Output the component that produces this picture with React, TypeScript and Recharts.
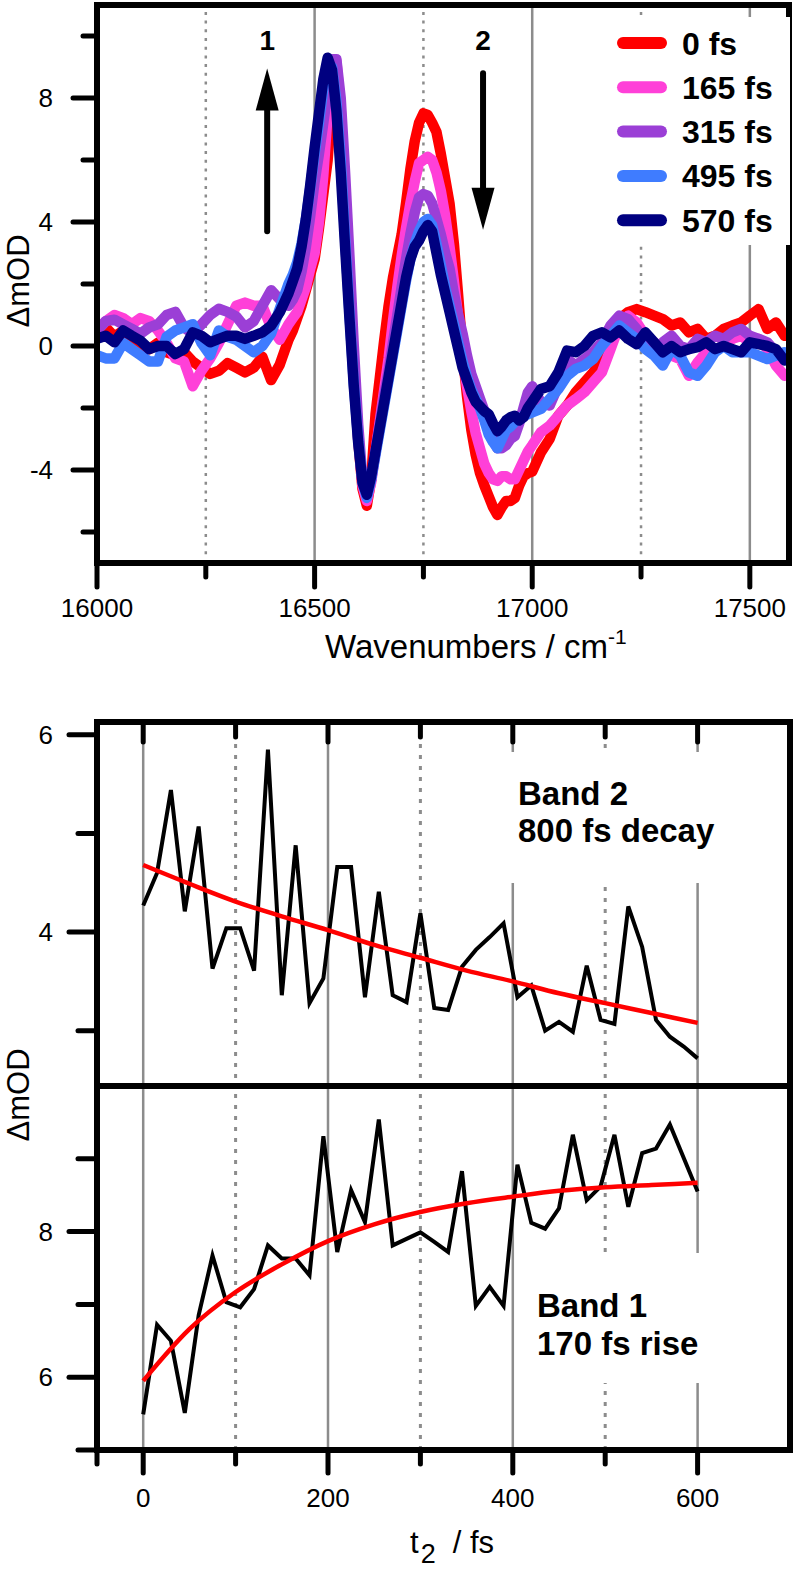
import React from 'react';
import { LineChart, Line, XAxis, YAxis, ReferenceLine, Legend, Label } from 'recharts';

const FONT = '"Liberation Sans", Arial, Helvetica, sans-serif';

// ---------- Top panel: transient spectra ----------
const wavenumbers = [
  16000, 16020, 16040, 16060, 16080, 16100, 16120, 16140, 16160, 16180, 16200, 16220, 16240, 16260, 16280, 16300, 16320, 16340, 16360, 16380, 16400, 16420, 16440,
  16450, 16460, 16470, 16480, 16490, 16500, 16510, 16520, 16530, 16540,
  16550, 16560, 16570, 16580, 16590, 16600, 16610, 16620, 16630, 16640,
  16650, 16660, 16670, 16680, 16690, 16700, 16710, 16720, 16730, 16740,
  16750, 16760, 16770, 16780, 16790, 16800, 16810, 16820, 16830, 16840,
  16850, 16860, 16870, 16880, 16890, 16900, 16910, 16920, 16930, 16940,
  16950, 16960, 16970, 16980, 16990, 17000,
  17020, 17040, 17060, 17080, 17100, 17120, 17140, 17160, 17180, 17200, 17220, 17240, 17260, 17280, 17300, 17320, 17340, 17360, 17380, 17400, 17420, 17440, 17460, 17480, 17500, 17520, 17540, 17560, 17580,
];

const delay0fs = [
  0.4, 0.6, 0.3, 0.5, 0.2, 0.0, -0.1, 0.1, -0.2, -0.3, -0.2, -0.5, -0.7, -0.9, -0.8, -0.55, -0.7, -0.85, -0.7, -0.35, -1.1, -0.6, 0.2,
  0.5, 0.9, 1.3, 1.8, 2.3, 2.8, 3.8, 4.9, 6.0, 8.0,
  8.9, 7.4, 4.8, 2.0, -0.8, -3.0, -4.6, -5.15, -4.3, -2.2,
  -1.0, 0.2, 1.3, 2.2, 2.9, 3.6, 4.6, 5.7, 6.6, 7.2,
  7.5, 7.45, 7.2, 6.9, 6.2, 5.4, 4.6, 3.3, 1.6, -0.2,
  -1.6, -2.7, -3.5, -4.1, -4.5, -4.85, -5.2, -5.45, -5.2, -5.0,
  -5.0, -4.9, -4.5, -4.2, -4.1, -4.05,
  -3.43, -3.0, -2.25, -1.92, -1.49, -1.17, -0.85, -0.47, 0.23, 0.87, 1.09, 1.19, 1.09, 0.98, 0.87, 0.66, 0.76, 0.44, 0.55, 0.23, 0.33, 0.55, 0.66, 0.76, 0.98, 1.19, 0.55, 0.76, 0.33,
];

const delay165fs = [
  0.5, 0.8, 1.0, 0.9, 0.7, 0.9, 0.8, 0.5, 0.1, -0.4, -0.5, -1.3, -0.8, -0.4, 0.1, 0.7, 1.3, 1.4, 1.3, 1.3, 0.6, 0.2, 0.7,
  0.9, 1.1, 1.5, 1.9, 2.5, 3.0, 4.0, 5.5, 7.5, 9.2,
  9.2, 7.6, 5.0, 2.3, -0.5, -2.9, -4.5, -5.0, -4.4, -3.4,
  -2.4, -1.4, -0.4, 0.8, 1.9, 2.9, 3.8, 4.6, 5.3, 5.9,
  6.0, 6.1, 6.0, 5.6, 5.0, 4.2, 3.2, 2.1, 0.9, -0.4,
  -1.3, -2.1, -2.8, -3.3, -3.8, -4.1, -4.3, -4.35, -4.2, -4.2,
  -4.3, -4.3, -4.0, -3.7, -3.4, -3.2,
  -2.78, -2.57, -2.25, -1.92, -1.71, -1.49, -1.17, -0.85, -0.1, 0.66, 0.98, 0.76, 0.33, 0.12, -0.2, -0.31, -0.42, -0.96, -0.53, -0.2, -0.1, 0.0, 0.23, 0.33, 0.12, 0.23, -0.1, -0.63, -0.96,
];

const delay315fs = [
  0.5, 0.8, 0.85, 0.7, 0.55, 0.4, 0.6, 0.7, 1.0, 1.1, 0.6, 0.4, 0.7, 1.0, 1.2, 1.1, 0.95, 0.6, 0.8, 1.3, 1.8, 1.5, 1.3,
  1.5, 1.8, 2.4, 3.2, 4.2, 5.3, 6.2, 7.2, 8.2, 9.25,
  9.25, 8.0, 5.6, 2.9, 0.0, -2.5, -4.3, -4.8, -4.3, -3.4,
  -2.5, -1.6, -0.8, 0.1, 1.0, 1.9, 2.8, 3.6, 4.3, 4.8,
  4.9, 4.85, 4.6, 4.1, 3.6, 3.0, 2.5, 1.7, 1.0, 0.4,
  -0.3, -0.9, -1.3, -1.7, -2.1, -2.6, -3.0, -3.3, -3.3, -3.2,
  -3.0, -2.9, -2.5, -2.0, -1.5, -1.3,
  -1.82, -1.92, -1.28, -0.42, -0.63, -0.42, -0.2, 0.12, 0.66, 0.98, 0.87, 0.55, 0.12, -0.1, 0.12, 0.33, 0.0, -0.1, 0.23, 0.12, 0.33, 0.23, 0.44, 0.55, 0.33, 0.23, 0.12, -0.2, -0.42,
];

const delay495fs = [
  -0.3, -0.4, -0.4, 0.1, -0.1, -0.3, -0.5, -0.5, 0.3, 0.5, 0.6, 0.7, 0.1, -0.3, 0.5, 0.3, 0.2, 0.0, -0.2, 0.0, 0.4, 1.2, 2.0,
  2.3, 2.7, 3.3, 4.1, 5.1, 6.2, 7.2, 8.3, 9.1, 9.0,
  7.9, 6.0, 3.5, 1.1, -1.2, -3.0, -4.4, -4.9, -4.3, -3.5,
  -2.7, -1.9, -1.1, -0.3, 0.5, 1.3, 2.1, 2.8, 3.3, 3.7,
  4.0, 4.1, 3.9, 3.3, 2.6, 1.9, 1.3, 0.7, 0.1, -0.5,
  -1.0, -1.4, -1.7, -2.0, -2.4, -2.85, -3.1, -3.3, -3.0, -2.7,
  -2.6, -2.45, -2.35, -2.25, -2.2, -2.14,
  -2.03, -1.71, -1.39, -0.96, -0.74, -0.63, -0.42, 0.0, 0.33, 0.66, 0.44, 0.23, -0.1, -0.31, -0.63, -0.1, -0.31, -0.85, -0.96, -0.63, -0.2, 0.0, -0.2, -0.2, -0.2, -0.31, -0.42, -0.31, -0.2,
];

const delay570fs = [
  0.23, 0.33, 0.12, 0.5, 0.33, 0.17, -0.1, 0.0, 0.0, -0.26, -0.1, 0.44, 0.33, 0.12, 0.23, 0.33, 0.33, 0.23, 0.33, 0.44, 0.66, 1.09, 1.7,
  2.1, 2.5, 3.2, 4.1, 5.2, 6.4, 7.5, 8.6, 9.3, 8.9,
  7.6, 5.6, 3.2, 0.9, -1.3, -3.1, -4.4, -4.8, -4.2, -3.4,
  -2.6, -1.8, -1.0, -0.2, 0.6, 1.4, 2.2, 2.8, 3.2, 3.4,
  3.7, 3.9, 3.7, 3.0, 2.3, 1.7, 1.1, 0.5, -0.1, -0.7,
  -1.1, -1.5, -1.8, -1.95, -2.1, -2.2, -2.5, -2.75, -2.6, -2.4,
  -2.3, -2.25, -2.4, -2.3, -2.0, -1.8,
  -1.39, -1.3, -0.85, -0.15, -0.2, 0.0, 0.33, 0.44, 0.28, 0.5, 0.23, 0.06, 0.44, 0.12, -0.2, 0.0, -0.2, -0.1, -0.04, 0.12, -0.1, 0.0, -0.1, -0.2, 0.12, 0.06, 0.0, -0.1, -0.47,
];

const seriesNames = ['0 fs', '165 fs', '315 fs', '495 fs', '570 fs'];
const seriesColors = ['#ff0000', '#ff40d8', '#9b3fd6', '#3f7cff', '#000080'];
const seriesValues = [delay0fs, delay165fs, delay315fs, delay495fs, delay570fs];

const specXMajor = [16000, 16500, 17000, 17500];
const specXMinor = [16250, 16750, 17250];
const specYMajor = [-4, 0, 4, 8];
const specYMinor = [-6, -2, 2, 6, 10];
const specGridSolid = [16500, 17000, 17500];
const specGridDotted = [16250, 16750, 17250];

const arrowX = [16391, 16887];
const arrowFrom = [3.7, 8.8];
const arrowTo = [8.95, 3.75];
const arrowLabels = ['1', '2'];

// ---------- Bottom panels: kinetics ----------
const delayTimes = [0, 15, 30, 45, 60, 75, 90, 105, 120, 135, 150, 165, 180, 195, 210, 225, 240, 255, 270, 285, 300, 315, 330, 345, 360, 375, 390, 405, 420, 435, 450, 465, 480, 495, 510, 525, 540, 555, 570, 585, 600];
const band2Values = [4.27, 4.6, 5.44, 4.21, 5.07, 3.63, 4.04, 4.04, 3.61, 5.85, 3.36, 4.88, 3.28, 3.53, 4.66, 4.66, 3.34, 4.41, 3.36, 3.29, 4.19, 3.23, 3.21, 3.65, 3.82, 3.95, 4.09, 3.34, 3.46, 3.0, 3.09, 2.99, 3.66, 3.11, 3.07, 4.26, 3.85, 3.11, 2.94, 2.84, 2.72];
const band1Values = [5.49, 6.72, 6.5, 5.51, 6.85, 7.67, 7.03, 6.96, 7.21, 7.81, 7.63, 7.63, 7.4, 9.31, 7.72, 8.57, 8.13, 9.54, 7.81, 7.9, 7.99, 7.86, 7.72, 8.83, 6.98, 7.24, 6.98, 8.92, 8.12, 8.04, 8.32, 9.33, 8.43, 8.62, 9.33, 8.34, 9.08, 9.14, 9.47, 9.01, 8.55];
const fitTimes = [0, 50, 100, 150, 200, 250, 300, 350, 400, 450, 500, 550, 600];
const band2Fit = [4.68, 4.49, 4.31, 4.16, 4.02, 3.87, 3.74, 3.61, 3.5, 3.38, 3.28, 3.18, 3.08];
const band1Fit = [5.95, 6.66, 7.17, 7.55, 7.87, 8.1, 8.27, 8.39, 8.48, 8.56, 8.61, 8.64, 8.67];

const timeMajor = [0, 200, 400, 600];
const timeMinor = [100, 300, 500];
const band2YMajor = [4, 6];
const band2YMinor = [3, 5];
const band1YMajor = [6, 8];
const band1YMinor = [5, 7, 9];

// ---------- helpers ----------
const spectrumRows = wavenumbers.map((w, i) => {
  const row: Record<string, number> = { w };
  seriesValues.forEach((vals, k) => {
    row['s' + k] = vals[i];
  });
  return row;
});
const band2Rows = delayTimes.map((t, i) => ({ t, v: band2Values[i] }));
const band1Rows = delayTimes.map((t, i) => ({ t, v: band1Values[i] }));
const band2FitRows = fitTimes.map((t, i) => ({ t, v: band2Fit[i] }));
const band1FitRows = fitTimes.map((t, i) => ({ t, v: band1Fit[i] }));

const AXIS = { stroke: '#000', strokeWidth: 6, strokeLinecap: 'square' as const };
const byNum = (a: number, b: number) => a - b;

type TickOpts = { majors: number[]; majorLen: number; minorLen: number; dir: number; labelOffset?: number; fontSize?: number };

const makeXTick = (o: TickOpts) => (props: any) => {
  const { x, y, payload } = props;
  const v = payload ? payload.value : 0;
  const isMajor = o.majors.indexOf(v) >= 0;
  const len = isMajor ? o.majorLen : o.minorLen;
  return (
    <g>
      <line x1={x} y1={y} x2={x} y2={y + o.dir * len} stroke="#000" strokeWidth={5} strokeLinecap="round" />
      {isMajor && o.labelOffset != null ? (
        <text x={x} y={y + o.labelOffset} textAnchor="middle" fontSize={o.fontSize} fontFamily={FONT} fill="#000">
          {v}
        </text>
      ) : null}
    </g>
  );
};

const makeYTick = (o: TickOpts) => (props: any) => {
  const { x, y, payload } = props;
  const v = payload ? payload.value : 0;
  const isMajor = o.majors.indexOf(v) >= 0;
  const len = isMajor ? o.majorLen : o.minorLen;
  const fs = o.fontSize || 26;
  return (
    <g>
      <line x1={x} y1={y} x2={x - len} y2={y} stroke="#000" strokeWidth={5} strokeLinecap="round" />
      {isMajor && o.labelOffset != null ? (
        <text x={x - o.labelOffset} y={y + fs * 0.355} textAnchor="end" fontSize={fs} fontFamily={FONT} fill="#000">
          {v}
        </text>
      ) : null}
    </g>
  );
};

const makeArrow = (label: string) => (p: any) => {
  const { x1, y1, x2, y2 } = p;
  const dir = y2 < y1 ? -1 : 1;
  const headLen = 42;
  const headHalf = 11.5;
  const baseY = y2 - dir * headLen;
  const labelY = dir < 0 ? y2 - 19 : y1 - 23;
  return (
    <g>
      <line x1={x1} y1={y1} x2={x1} y2={baseY} stroke="#000" strokeWidth={6} strokeLinecap="round" />
      <polygon points={`${x2 - headHalf},${baseY} ${x2 + headHalf},${baseY} ${x2},${y2}`} fill="#000" />
      <text x={x1} y={labelY} textAnchor="middle" fontSize={28} fontWeight="bold" fontFamily={FONT} fill="#000">
        {label}
      </text>
    </g>
  );
};

const SpectrumLegend = () => (
  <svg width={192} height={228} style={{ display: 'block', background: '#fff' }}>
    {seriesNames.map((name, i) => {
      const cy = 26 + i * 44.3;
      return (
        <g key={name}>
          <line x1={25} x2={63} y1={cy} y2={cy} stroke={seriesColors[i]} strokeWidth={12} strokeLinecap="round" />
          <text x={84} y={cy + 11.5} fontSize={32} fontWeight="bold" fontFamily={FONT} fill="#000">
            {name}
          </text>
        </g>
      );
    })}
  </svg>
);

const gridSolidStyle = { stroke: '#8c8c8c', strokeWidth: 2.5 };

export default function App() {
  return (
    <div style={{ position: 'absolute', left: 0, top: 0, width: 796, height: 1571, background: '#fff', overflow: 'hidden' }}>
      {/* Top panel */}
      <div style={{ position: 'absolute', left: 0, top: 0 }}>
        <LineChart width={796} height={680} data={spectrumRows} margin={{ top: 4, right: 6, bottom: 0, left: 0 }}>
          <XAxis
            xAxisId="wn"
            dataKey="w"
            type="number"
            domain={[16000, 17590]}
            allowDataOverflow
            ticks={[...specXMajor, ...specXMinor].sort(byNum)}
            interval={0}
            height={117}
            tickSize={0}
            tickMargin={0}
            axisLine={AXIS}
            tickLine={false}
            tick={makeXTick({ majors: specXMajor, majorLen: 24, minorLen: 14, dir: 1, labelOffset: 54, fontSize: 26 })}
          >
            <Label
              content={(p: any) => (
                <text x={p.viewBox.x + 228} y={p.viewBox.y + 95} fontSize={33} fontFamily={FONT} fill="#000">
                  Wavenumbers / cm
                  <tspan dy={-14} fontSize={21}>
                    -1
                  </tspan>
                </text>
              )}
            />
          </XAxis>
          <XAxis
            xAxisId="wnTop"
            orientation="top"
            type="number"
            domain={[16000, 17590]}
            allowDataOverflow
            ticks={[...specXMajor, ...specXMinor].sort(byNum)}
            interval={0}
            height={1}
            tickSize={0}
            tickMargin={0}
            axisLine={AXIS}
            tickLine={false}
            tick={makeXTick({ majors: specXMajor, majorLen: 20, minorLen: 11, dir: 1 })}
          />
          <YAxis
            yAxisId="od"
            type="number"
            domain={[-7, 11]}
            allowDataOverflow
            ticks={[...specYMajor, ...specYMinor].sort(byNum)}
            interval={0}
            width={97}
            tickSize={0}
            tickMargin={0}
            axisLine={AXIS}
            tickLine={false}
            tick={makeYTick({ majors: specYMajor, majorLen: 24, minorLen: 14, dir: -1, labelOffset: 44, fontSize: 26 })}
          >
            <Label
              content={(p: any) => (
                <text
                  transform={`translate(29, ${p.viewBox.y + p.viewBox.height / 2 - 3}) rotate(-90)`}
                  textAnchor="middle"
                  fontSize={31}
                  fontFamily={FONT}
                  fill="#000"
                >
                  ΔmOD
                </text>
              )}
            />
          </YAxis>
          <YAxis yAxisId="odRight" orientation="right" type="number" domain={[-7, 11]} allowDataOverflow width={1} axisLine={AXIS} tick={false} tickLine={false} />
          {specGridSolid.map((v) => (
            <ReferenceLine key={'gs' + v} xAxisId="wn" yAxisId="od" x={v} {...gridSolidStyle} />
          ))}
          {specGridDotted.map((v) => (
            <ReferenceLine key={'gd' + v} xAxisId="wn" yAxisId="od" x={v} stroke="#8c8c8c" strokeWidth={2.5} strokeDasharray="3 5.7" />
          ))}
          {seriesNames.map((name, k) => (
            <Line
              key={name}
              xAxisId="wn"
              yAxisId="od"
              dataKey={'s' + k}
              name={name}
              type="linear"
              stroke={seriesColors[k]}
              strokeWidth={10.5}
              strokeLinejoin="round"
              strokeLinecap="round"
              dot={false}
              activeDot={false}
              isAnimationActive={false}
            />
          ))}
          {arrowX.map((x, i) => (
            <ReferenceLine
              key={'arrow' + i}
              xAxisId="wn"
              yAxisId="od"
              segment={[
                { x, y: arrowFrom[i] },
                { x, y: arrowTo[i] },
              ]}
              shape={makeArrow(arrowLabels[i])}
            />
          ))}
          <Legend
            layout="vertical"
            align="center"
            verticalAlign="middle"
            wrapperStyle={{ left: 598, top: 17, width: 192, height: 228, background: '#fff' }}
            content={() => <SpectrumLegend />}
          />
        </LineChart>
      </div>

      {/* Band 2 panel */}
      <div style={{ position: 'absolute', left: 0, top: 700 }}>
        <LineChart width={796} height={386} margin={{ top: 21, right: 5, bottom: 0, left: 0 }}>
          <XAxis
            xAxisId="t"
            orientation="top"
            type="number"
            dataKey="t"
            domain={[-50, 700]}
            allowDataOverflow
            ticks={[...timeMajor, ...timeMinor].sort(byNum)}
            interval={0}
            height={1}
            tickSize={0}
            tickMargin={0}
            axisLine={AXIS}
            tickLine={false}
            tick={makeXTick({ majors: timeMajor, majorLen: 20, minorLen: 15, dir: 1 })}
          />
          <YAxis
            yAxisId="b2"
            type="number"
            domain={[2.44, 6.13]}
            allowDataOverflow
            ticks={[...band2YMajor, ...band2YMinor].sort(byNum)}
            interval={0}
            width={97}
            tickSize={0}
            tickMargin={0}
            axisLine={AXIS}
            tickLine={false}
            tick={makeYTick({ majors: band2YMajor, majorLen: 28, minorLen: 19, dir: -1, labelOffset: 44, fontSize: 26 })}
          />
          <YAxis yAxisId="b2r" orientation="right" type="number" domain={[2.44, 6.13]} allowDataOverflow width={1} axisLine={AXIS} tick={false} tickLine={false} />
          {timeMajor.map((v) => (
            <ReferenceLine key={'s' + v} xAxisId="t" yAxisId="b2" x={v} {...gridSolidStyle} />
          ))}
          {timeMinor.map((v) => (
            <ReferenceLine key={'d' + v} xAxisId="t" yAxisId="b2" x={v} stroke="#8c8c8c" strokeWidth={3} strokeDasharray="4 7" />
          ))}
          <Line xAxisId="t" yAxisId="b2" data={band2Rows} dataKey="v" type="linear" stroke="#000" strokeWidth={4} strokeLinejoin="miter" dot={false} activeDot={false} isAnimationActive={false} />
          <Line xAxisId="t" yAxisId="b2" data={band2FitRows} dataKey="v" type="monotone" stroke="#ff0000" strokeWidth={4.5} dot={false} activeDot={false} isAnimationActive={false} />
        </LineChart>
      </div>

      {/* Band 1 panel */}
      <div style={{ position: 'absolute', left: 0, top: 1000 }}>
        <LineChart width={796} height={571} margin={{ top: 85, right: 5, bottom: 0, left: 0 }}>
          <XAxis
            xAxisId="t"
            type="number"
            dataKey="t"
            domain={[-50, 700]}
            allowDataOverflow
            ticks={[-50, ...timeMajor, ...timeMinor].sort(byNum)}
            interval={0}
            height={121}
            tickSize={0}
            tickMargin={0}
            axisLine={AXIS}
            tickLine={false}
            tick={makeXTick({ majors: timeMajor, majorLen: 23, minorLen: 14, dir: 1, labelOffset: 57, fontSize: 26 })}
          >
            <Label
              content={(p: any) => (
                <text x={410} y={p.viewBox.y + 103} fontSize={31} fontFamily={FONT} fill="#000">
                  t
                  <tspan dx={2} dy={10} fontSize={27}>
                    2
                  </tspan>
                  <tspan dx={17} dy={-10}>
                    / fs
                  </tspan>
                </text>
              )}
            />
          </XAxis>
          <XAxis
            xAxisId="tTop"
            orientation="top"
            type="number"
            domain={[-50, 700]}
            allowDataOverflow
            ticks={[...timeMajor, ...timeMinor].sort(byNum)}
            interval={0}
            height={1}
            tickSize={0}
            tickMargin={0}
            axisLine={AXIS}
            tickLine={false}
            tick={makeXTick({ majors: timeMajor, majorLen: 20, minorLen: 15, dir: 1 })}
          />
          <YAxis
            yAxisId="b1"
            type="number"
            domain={[5, 10]}
            allowDataOverflow
            ticks={[...band1YMajor, ...band1YMinor].sort(byNum)}
            interval={0}
            width={97}
            tickSize={0}
            tickMargin={0}
            axisLine={AXIS}
            tickLine={false}
            tick={makeYTick({ majors: band1YMajor, majorLen: 28, minorLen: 19, dir: -1, labelOffset: 44, fontSize: 26 })}
          >
            <Label
              content={(p: any) => (
                <text transform={`translate(29, ${p.viewBox.y + 9}) rotate(-90)`} textAnchor="middle" fontSize={31} fontFamily={FONT} fill="#000">
                  ΔmOD
                </text>
              )}
            />
          </YAxis>
          <YAxis yAxisId="b1r" orientation="right" type="number" domain={[5, 10]} allowDataOverflow width={1} axisLine={AXIS} tick={false} tickLine={false} />
          {timeMajor.map((v) => (
            <ReferenceLine key={'s' + v} xAxisId="t" yAxisId="b1" x={v} {...gridSolidStyle} />
          ))}
          {timeMinor.map((v) => (
            <ReferenceLine key={'d' + v} xAxisId="t" yAxisId="b1" x={v} stroke="#8c8c8c" strokeWidth={3} strokeDasharray="4 7" />
          ))}
          <Line xAxisId="t" yAxisId="b1" data={band1Rows} dataKey="v" type="linear" stroke="#000" strokeWidth={4} strokeLinejoin="miter" dot={false} activeDot={false} isAnimationActive={false} />
          <Line xAxisId="t" yAxisId="b1" data={band1FitRows} dataKey="v" type="monotone" stroke="#ff0000" strokeWidth={4.5} dot={false} activeDot={false} isAnimationActive={false} />
        </LineChart>
      </div>

      {/* Band annotations */}
      <svg width={796} height={1571} style={{ position: 'absolute', left: 0, top: 0, pointerEvents: 'none' }}>
        <rect x={505} y={752} width={277} height={131} fill="#fff" />
        <text x={518} y={805} fontSize={33} fontWeight="bold" fontFamily={FONT} fill="#000">
          Band 2
        </text>
        <text x={518} y={842} fontSize={33} fontWeight="bold" fontFamily={FONT} fill="#000">
          800 fs decay
        </text>
        <rect x={522} y={1253} width={195} height={130} fill="#fff" />
        <text x={537} y={1317} fontSize={33} fontWeight="bold" fontFamily={FONT} fill="#000">
          Band 1
        </text>
        <text x={537} y={1355} fontSize={33} fontWeight="bold" fontFamily={FONT} fill="#000">
          170 fs rise
        </text>
      </svg>
    </div>
  );
}
